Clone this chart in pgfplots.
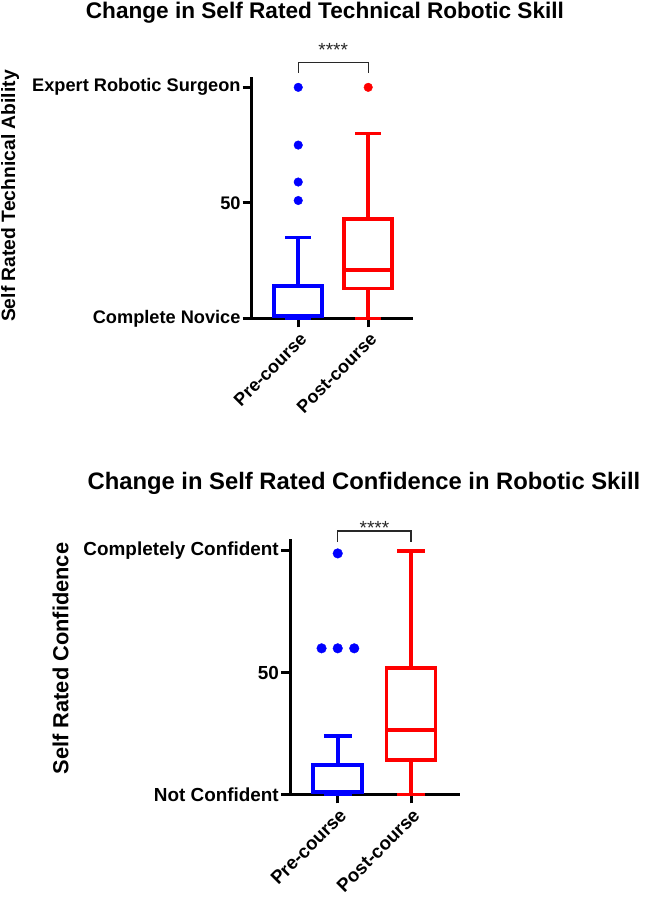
\documentclass[border=0pt]{standalone}
\usepackage{fontspec}
\setmainfont{Liberation Sans}
\usepackage{pgfplots}
\pgfplotsset{compat=1.18}
\usepgfplotslibrary{statistics}
\definecolor{pblue}{RGB}{0,0,255}
\definecolor{pred}{RGB}{255,0,0}
\definecolor{brk}{RGB}{40,40,40}
\pgfplotsset{
  mybox/.style={
    scale only axis, anchor=south west,
    axis lines=left, axis line style={-, line width=3bp, black},
    clip=false,
    xtick={1,2}, xticklabels={Pre-course,Post-course},
    tick align=outside, major tick length=9bp,
    tick style={line width=3bp, black},
    /pgf/number format/assume math mode=true,
    boxplot/draw direction=y,
  }
}
\begin{document}
\begin{tikzpicture}
\useasboundingbox (0,0) rectangle (645bp,-900bp);
% ---------------- top chart ----------------
\begin{axis}[mybox,
  at={(251.7bp,-318.3bp)},
  width=161.3bp, height=241.6bp,
  xmin=0.335, xmax=2.64, ymin=0, ymax=104.6,
  ytick={0,50,100}, yticklabels={Complete Novice,50,Expert Robotic Surgeon},
  yticklabel style={font=\fontsize{18.2bp}{21bp}\selectfont\bfseries, inner sep=2bp},
  xticklabel style={rotate=45, anchor=east, inner sep=1bp, xshift=-1.5bp, yshift=-10bp, font=\fontsize{18bp}{21bp}\selectfont\bfseries},
  title={Change in Self Rated Technical Robotic Skill},
  title style={at={(axis description cs:0.454,1.2417)}, anchor=base, yshift=-6pt, inner sep=0pt, font=\fontsize{22.6bp}{26bp}\selectfont\bfseries},
  ylabel={Self Rated Technical Ability},
  ylabel style={at={(axis description cs:-1.498,0.506)}, anchor=center, font=\fontsize{19.3bp}{22bp}\selectfont\bfseries},
]
\addplot[pblue, line width=3.5bp, boxplot/draw direction=y, boxplot prepared={draw position=1, lower whisker=0, lower quartile=1, median=1, upper quartile=14, upper whisker=35, box extend=0.686, whisker extend=0.364}] coordinates {};
\addplot[pred, line width=3.5bp, boxplot/draw direction=y, boxplot prepared={draw position=2, lower whisker=0, lower quartile=13, median=21, upper quartile=43, upper whisker=80, box extend=0.686, whisker extend=0.364}] coordinates {};
\addplot[only marks, mark=*, mark size=4.3bp, pblue] coordinates {(1,100) (1,75) (1,59) (1,51)};
\addplot[only marks, mark=*, mark size=4.3bp, pred] coordinates {(2,100)};
\draw[brk, line width=1.3bp] (axis cs:1,106.3) -- (axis cs:1,110.8) -- (axis cs:2,110.8) -- (axis cs:2,106.3);
\node[brk, anchor=base, inner sep=0pt, font=\fontsize{19bp}{21bp}\selectfont] at (axis cs:1.5,113.5) {****};
\end{axis}
% ---------------- bottom chart ----------------
\begin{axis}[mybox,
  at={(290bp,-794.3bp)},
  width=169.6bp, height=255bp,
  xmin=0.35, xmax=2.66, ymin=0, ymax=104.8,
  ytick={0,50,100}, yticklabels={Not Confident,50,Completely Confident},
  yticklabel style={font=\fontsize{18.9bp}{21bp}\selectfont\bfseries, inner sep=2bp},
  xticklabel style={rotate=45, anchor=east, inner sep=1bp, xshift=-1.5bp, yshift=-10bp, font=\fontsize{18.7bp}{21bp}\selectfont\bfseries},
  title={Change in Self Rated Confidence in Robotic Skill},
  title style={at={(axis description cs:0.436,1.196)}, anchor=base, yshift=-6pt, inner sep=0pt, font=\fontsize{23.8bp}{27bp}\selectfont\bfseries},
  ylabel={Self Rated Confidence},
  ylabel style={at={(axis description cs:-1.353,0.5325)}, anchor=center, font=\fontsize{21.8bp}{25bp}\selectfont\bfseries},
]
\addplot[pblue, line width=3.6bp, boxplot/draw direction=y, boxplot prepared={draw position=1, lower whisker=0, lower quartile=1, median=1, upper quartile=12, upper whisker=24, box extend=0.667, whisker extend=0.377}] coordinates {};
\addplot[pred, line width=3.6bp, boxplot/draw direction=y, boxplot prepared={draw position=2, lower whisker=0, lower quartile=14, median=26.5, upper quartile=52, upper whisker=100, box extend=0.667, whisker extend=0.377}] coordinates {};
\addplot[only marks, mark=*, mark size=4.8bp, pblue] coordinates {(1,99) (0.78,60) (1,60) (1.225,60)};
\draw[brk, line width=1.3bp] (axis cs:1,103.6) -- (axis cs:1,108.2) -- (axis cs:2,108.2) -- (axis cs:2,103.6);
\node[brk, anchor=base, inner sep=0pt, font=\fontsize{19bp}{21bp}\selectfont] at (axis cs:1.5,106.7) {****};
\end{axis}
\end{tikzpicture}
\end{document}
